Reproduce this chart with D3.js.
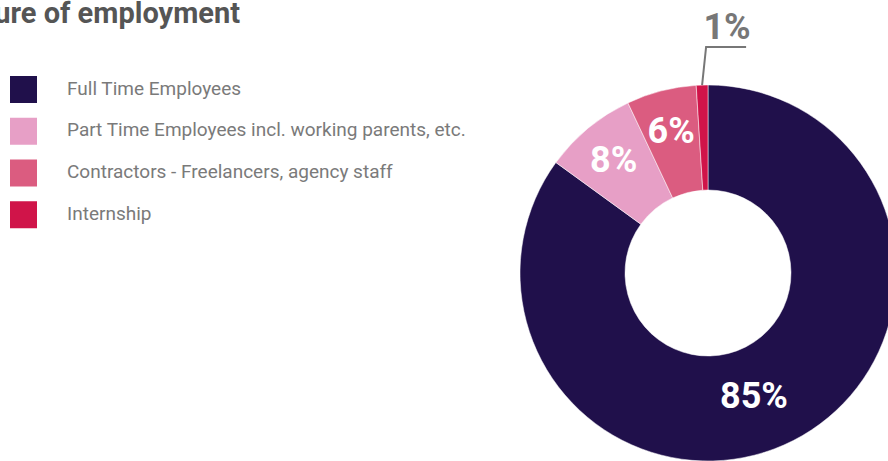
<!DOCTYPE html>
<html>
<head>
<meta charset="utf-8">
<script src="https://cdn.jsdelivr.net/npm/d3@7"></script>
<style>
  body { margin: 0; background: #fff; }
  svg { display: block; font-family: Roboto, sans-serif; }
</style>
</head>
<body>
<svg id="chart" width="888" height="461"></svg>
<script>
const title = "Nature of employment";
const categories = ["Full Time Employees", "Part Time Employees incl. working parents, etc.", "Contractors - Freelancers, agency staff", "Internship"];
const values = [85, 8, 6, 1];
const colors = ["#20104b", "#e79fc6", "#db5c80", "#d01449"];

const svg = d3.select("#chart");

// title, cut off at the left edge like the original
svg.append("text")
    .attr("x", 240)
    .attr("y", 23)
    .attr("text-anchor", "end")
    .style("font-size", "29px")
    .style("font-weight", "700")
    .style("fill", "#555")
    .text(title);

// legend
const legend = svg.append("g").attr("transform", "translate(10,76)");
const rowY = d3.scaleBand().domain(categories).range([0, 167]).paddingInner(0);

categories.forEach((c, i) => {
    const g = legend.append("g").attr("transform", `translate(0,${rowY(c)})`);
    g.append("rect")
        .attr("width", 27)
        .attr("height", 27)
        .attr("fill", colors[i]);
    g.append("text")
        .attr("x", 57)
        .attr("y", 12)
        .attr("dy", "0.35em")
        .style("font-size", "19px")
        .style("fill", "#7a7a7a")
        .text(c);
});

// donut
const cx = 708, cy = 273, outerR = 188, innerR = 83;
const pie = d3.pie().sort(null).value(d => d)(values);
const arc = d3.arc().innerRadius(innerR).outerRadius(outerR);
const labelArc = d3.arc().innerRadius(148).outerRadius(148);

const donut = svg.append("g").attr("transform", `translate(${cx},${cy})`);

donut.selectAll("path")
    .data(pie)
    .join("path")
    .attr("d", arc)
    .attr("fill", (d, i) => colors[i])
    .attr("stroke", "#fff")
    .attr("stroke-width", 0.5);

// labels inside slices (the tiny one goes outside with a leader line)
pie.forEach((d, i) => {
    if (d.data < 3) {
        const mid = (d.startAngle + d.endAngle) / 2;
        const p0 = [Math.sin(mid) * outerR, -Math.cos(mid) * outerR];
        const p1 = [p0[0] + 4, -226];
        const p2 = [p1[0] + 40, -226];
        donut.append("path")
            .attr("d", d3.line()([p0, p1, p2]))
            .attr("fill", "none")
            .attr("stroke", "#777")
            .attr("stroke-width", 2);
        donut.append("text")
            .attr("x", p1[0] + 21)
            .attr("y", -234)
            .attr("text-anchor", "middle")
            .style("font-size", "36px")
            .style("font-weight", "700")
            .style("fill", "#777")
            .text(d.data + "%");
    } else {
        let [lx, ly] = labelArc.centroid(d);
        if (d.data > 50) {
            // big slice: label sits a bit further round
            const a = (d.startAngle + d.endAngle) / 2 + 0.11;
            lx = Math.sin(a) * 130; ly = -Math.cos(a) * 130;
        }
        donut.append("text")
            .attr("x", lx)
            .attr("y", ly)
            .attr("dy", "0.36em")
            .attr("text-anchor", "middle")
            .style("font-size", "36px")
            .style("font-weight", "700")
            .style("fill", "#fff")
            .text(d.data + "%");
    }
});
</script>
</body>
</html>
